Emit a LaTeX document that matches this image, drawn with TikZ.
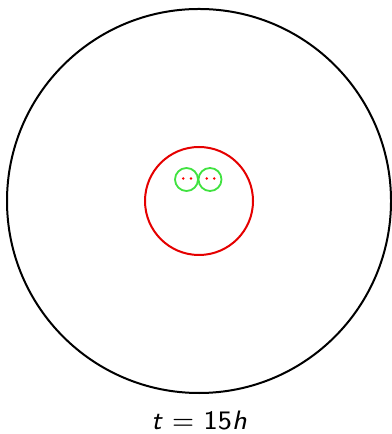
\documentclass[tikz,border=0pt]{standalone}
\usetikzlibrary{positioning}
\tikzset{
outer/.style={draw=black,line width=0.6pt},
core/.style={draw=red!90!black,line width=0.6pt},
cell/.style={draw=green!85!black!75,line width=0.55pt},
dot/.style={fill=red,draw=none},
caption/.style={font=\footnotesize\sffamily,inner sep=0pt}
}
\begin{document}
\begin{tikzpicture}[x=0.3pt,y=-0.3pt]
\useasboundingbox (0,0) rectangle (391,434);
\draw[outer] (199,201) circle (192);
\draw[core] (199,201) circle (54);
\draw[cell] (186.5,179.5) circle (11.5);
\draw[cell] (210,179.5) circle (11.5);
\foreach \x in {183.3,191,206.7,214.3} {
\fill[dot] (\x,178.5) circle (1.4);
}
\node[caption] (lab) at (199,421) {\textsl{t} $=$ 15\textsl{h}};
\end{tikzpicture}
\end{document}
